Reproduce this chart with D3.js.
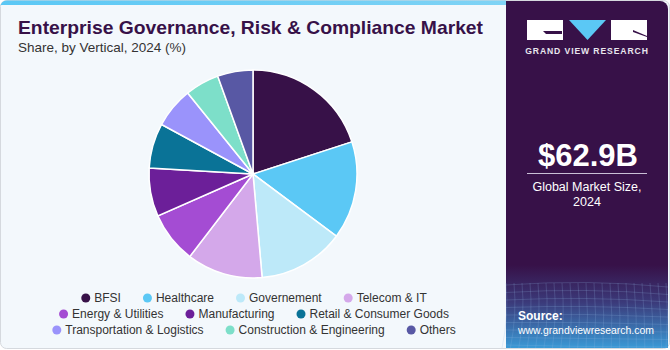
<!DOCTYPE html>
<html><head><meta charset="utf-8">
<script src="https://cdn.jsdelivr.net/npm/d3@7"></script>
<style>body{margin:0;background:#fff;}svg{display:block;font-family:"Liberation Sans",Arial,sans-serif;}</style>
</head><body><svg id="c" width="670" height="350"></svg>
<script>
const categories = ["BFSI","Healthcare","Governement","Telecom & IT","Energy & Utilities","Manufacturing","Retail & Consumer Goods","Transportation & Logistics","Construction & Engineering","Others"];
const shares = [20.0,15.2,13.4,11.8,8.0,7.5,7.0,6.3,5.3,5.5];
const colors = ["#371148","#5BC8F5","#BDE9F9","#D4A8EA","#A44CD3","#6C1F99","#0A7397","#9A93FB","#7DDFC9","#5858A4"];
const legendRows = [[0,1,2,3],[4,5,6],[7,8,9]];

const svg = d3.select("#c");
const defs = svg.append("defs");
const tg = defs.append("linearGradient").attr("id","topbar").attr("x1",0).attr("x2",1);
tg.append("stop").attr("offset","0").attr("stop-color","#5BC8F5");
tg.append("stop").attr("offset","1").attr("stop-color","#7fd3f5");
const bg = defs.append("linearGradient").attr("id","btm").attr("x1",0).attr("y1",0).attr("x2",0).attr("y2",1);
bg.append("stop").attr("offset","0").attr("stop-color","#371148");
bg.append("stop").attr("offset","0.45").attr("stop-color","#3b3a7a");
bg.append("stop").attr("offset","1").attr("stop-color","#3a9ad6");

// card
svg.append("rect").attr("x",0.5).attr("y",0.5).attr("width",669).attr("height",348).attr("rx",6).attr("fill","#F3F8FC").attr("stroke","#d5d9de");
svg.append("path").attr("d","M0.5,6.5 a6,6 0 0 1 6,-6 H506 V5 H0.5 Z").attr("fill","url(#topbar)");

// right panel
svg.append("path").attr("d","M506,1 H660 a8,8 0 0 1 8,8 V348 H506 Z").attr("fill","#371148");
svg.append("rect").attr("x",506).attr("y",265).attr("width",162).attr("height",83).attr("fill","url(#btm)");
// grid texture
const grid = svg.append("g").attr("stroke","#8fb6e0").attr("stroke-opacity",0.35).attr("stroke-width",0.6).attr("fill","none");
for(let i=0;i<9;i++){const y=285+i*7.5;grid.append("path").attr("d",`M506,${y} Q587,${y-6+i} 668,${y+2}`);}
for(let i=0;i<21;i++){const x=506+i*8;grid.append("path").attr("d",`M${x},283 Q${x+3},315 ${Math.min(666,x-4+i*0.4)},348`);}

// logo
const lg = svg.append("g");
lg.append("rect").attr("x",527).attr("y",20).attr("width",36).attr("height",20).attr("fill","#fff");
lg.append("path").attr("d","M543,31 H562 V34 H546 Z").attr("fill","#371148");
lg.append("path").attr("d","M569,20 H606 L587.5,40 Z").attr("fill","#5BC8F5");
lg.append("rect").attr("x",611).attr("y",20).attr("width",36).attr("height",20).attr("fill","#fff");
lg.append("path").attr("d","M633,30 L647,36 V37 L633,32 Z").attr("fill","#371148");
svg.append("text").attr("x",587).attr("y",54).attr("text-anchor","middle").attr("fill","#e8e6ee").attr("font-size",8.6).attr("font-weight","bold").attr("letter-spacing",0.9).text("GRAND VIEW RESEARCH");

svg.append("text").attr("x",588).attr("y",166).attr("text-anchor","middle").attr("fill","#fff").attr("font-size",31).attr("font-weight","bold").text("$62.9B");
svg.append("line").attr("x1",527).attr("x2",647).attr("y1",173.5).attr("y2",173.5).attr("stroke","#c9bfd6").attr("stroke-width",1);
svg.append("text").attr("x",587).attr("y",191).attr("text-anchor","middle").attr("fill","#fff").attr("font-size",12.5).text("Global Market Size,");
svg.append("text").attr("x",587).attr("y",206).attr("text-anchor","middle").attr("fill","#fff").attr("font-size",12.5).text("2024");
svg.append("text").attr("x",518).attr("y",320).attr("fill","#fff").attr("font-size",12).attr("font-weight","bold").text("Source:");
svg.append("text").attr("x",518).attr("y",334).attr("fill","#fff").attr("font-size",11.5).attr("textLength",136).attr("lengthAdjust","spacingAndGlyphs").text("www.grandviewresearch.com");

// titles
svg.append("text").attr("x",18).attr("y",34).attr("fill","#371148").attr("font-size",19).attr("font-weight","bold").attr("textLength",465).attr("lengthAdjust","spacingAndGlyphs").text("Enterprise Governance, Risk & Compliance Market");
svg.append("text").attr("x",18).attr("y",52).attr("fill","#333").attr("font-size",13.5).text("Share, by Vertical, 2024 (%)");

// pie
const data = categories.map((c,i)=>({c, v:shares[i], col:colors[i]}));
const pie = d3.pie().value(d=>d.v).sort(null);
const arc = d3.arc().innerRadius(0).outerRadius(104);
svg.append("g").attr("transform","translate(253,174)")
  .selectAll("path").data(pie(data)).join("path")
  .attr("d",arc).attr("fill",d=>d.data.col).attr("stroke","#fff").attr("stroke-width",1.5);

// legend
const lgd = svg.append("g").attr("font-size",12).attr("fill","#333");
const rowY = [298,314,330];
legendRows.forEach((row,ri)=>{
  const g = lgd.append("g");
  let x = 0;
  row.forEach(i=>{
    g.append("circle").attr("cx",x+4.5).attr("cy",rowY[ri]).attr("r",4.5).attr("fill",colors[i]);
    const t = g.append("text").attr("x",x+13).attr("y",rowY[ri]+4.3).text(categories[i]);
    x += 13 + t.node().getComputedTextLength() + 22;
  });
  const w = x - 22;
  g.attr("transform",`translate(${254 - w/2},0)`);
});
</script></body></html>
